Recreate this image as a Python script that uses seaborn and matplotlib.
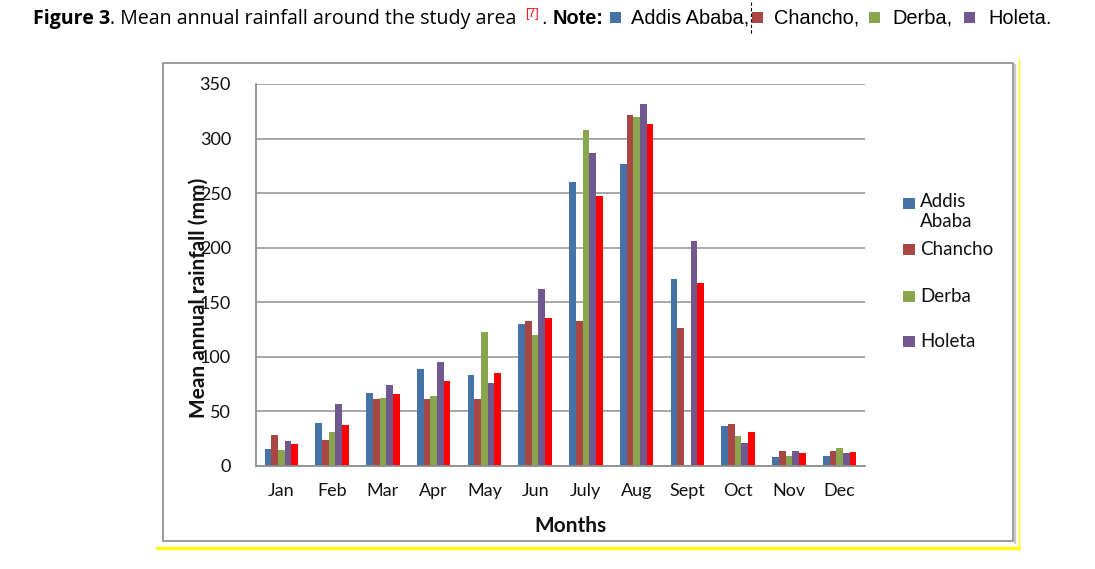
import numpy as np
import pandas as pd
import matplotlib
matplotlib.use("Agg")
import matplotlib.pyplot as plt
import seaborn as sns
from matplotlib.patches import Rectangle
from matplotlib.lines import Line2D
from matplotlib import font_manager as fm

# ---------------- data ----------------
months = ["Jan", "Feb", "Mar", "Apr", "May", "Jun", "July", "Aug", "Sept", "Oct", "Nov", "Dec"]
addis_ababa = [16, 39, 67, 89, 83, 130, 260, 277, 171, 37, 8, 9.5]
chancho = [28.5, 24, 61, 61, 61, 133, 133, 322, 126, 38.5, 13.5, 13.5]
derba = [14.5, 31, 62, 64, 123, 120, 308, 320, 0, 27.5, 9, 16.5]
holeta = [23, 57, 74, 95, 76, 162, 287, 332, 206, 21.5, 14, 12]
station5 = [20, 38, 66, 78, 85, 136, 247, 313, 168, 31, 11.5, 13]
series_names = ["Addis Ababa", "Chancho", "Derba", "Holeta", "Station 5"]
legend_labels = ["Addis\nAbaba", "Chancho", "Derba", "Holeta"]
note_labels = ["Addis Ababa,", "Chancho,", "Derba,", "Holeta."]
y_ticks = [0, 50, 100, 150, 200, 250, 300, 350]
colors = ["#4572A7", "#AA4643", "#89A54E", "#71588F", "#FF0000"]

df = pd.DataFrame({
    "Month": months * 5,
    "Rainfall": addis_ababa + chancho + derba + holeta + station5,
    "Station": sum([[n] * len(months) for n in series_names], []),
})

# ---------------- fonts ----------------
avail = {f.name for f in fm.fontManager.ttflist}
AX_FONT = "Lato" if "Lato" in avail else "DejaVu Sans"
T1_FONT = "Open Sans" if "Open Sans" in avail else "DejaVu Sans"
T2_FONT = "Liberation Sans Narrow" if "Liberation Sans Narrow" in avail else "Liberation Sans"

sns.set_style("white")
plt.rcParams["font.family"] = [AX_FONT, "DejaVu Sans"]

W, H = 1095, 569
fig = plt.figure(figsize=(W / 100, H / 100), dpi=100)
fig.patch.set_facecolor("white")


def fx(px):
    return px / W


def fy(py):
    return 1 - py / H


# chart frame (Excel chart area) and yellow lines
fig.patches.append(Rectangle((fx(163), fy(541)), 850 / W, 478 / H, transform=fig.transFigure,
                             fill=False, edgecolor="#8a8a8a", lw=1.2, zorder=0))
fig.lines.append(Line2D([fx(1015), fx(1015)], [fy(65), fy(543)], transform=fig.transFigure,
                        color="#c8c8c8", lw=1.6))
fig.lines.append(Line2D([fx(157), fx(1019)], [fy(548), fy(548)], transform=fig.transFigure,
                        color="#FFFF00", lw=2.4))
fig.lines.append(Line2D([fx(1019), fx(1019)], [fy(59), fy(548)], transform=fig.transFigure,
                        color="#FFFF00", lw=1.0))

# ---------------- axes ----------------
ax = fig.add_axes([fx(256), fy(466), 609 / W, 382 / H])
sns.barplot(data=df, x="Month", y="Rainfall", hue="Station", order=months,
            hue_order=series_names, palette=colors, width=0.66, saturation=1,
            errorbar=None, legend=False, linewidth=0, ax=ax)

ax.set_xlim(-0.5, len(months) - 0.5)
ax.set_ylim(0, 350)
ax.set_yticks(y_ticks)
ax.set_yticklabels([str(v) for v in y_ticks])
ax.yaxis.grid(True, color="#8f8f8f", lw=1.1)
ax.xaxis.grid(False)
ax.set_axisbelow(True)
for s in ["top", "right"]:
    ax.spines[s].set_visible(False)
for s in ["left", "bottom"]:
    ax.spines[s].set_color("#8f8f8f")
    ax.spines[s].set_linewidth(1.3)

ax.set_xticks(np.arange(-0.5, len(months) + 0.5, 1.0), minor=True)
ax.tick_params(axis="x", which="major", length=0, pad=12, labelsize=13, labelcolor="#111111")
ax.tick_params(axis="x", which="minor", length=5, width=1.1, color="#8f8f8f", direction="out")
ax.tick_params(axis="y", which="major", length=6, width=1.1, color="#8f8f8f", direction="out",
               pad=12, labelsize=13, labelcolor="#111111")

ax.set_xlabel("Months", fontsize=15, fontweight="bold", color="#111111")
ax.set_ylabel("Mean annual rainfall (mm)", fontsize=15, fontweight="bold", color="#111111")
ax.xaxis.set_label_coords(0.516, -0.132)
ax.yaxis.set_label_coords(-0.078, 0.44)

# ---------------- legend (first four series) ----------------
leg_centers = [203.5, 249.5, 296, 341.5]
for lab, col, yc in zip(legend_labels, colors, leg_centers):
    fig.patches.append(Rectangle((fx(903), fy(yc + 5.5)), 12 / W, 11 / H,
                                 transform=fig.transFigure, facecolor=col, edgecolor="none"))
    if "\n" in lab:
        fig.text(fx(920), fy(yc - 10.5), lab, ha="left", va="top", fontsize=13.5,
                 color="#111111", linespacing=1.22)
    else:
        fig.text(fx(920), fy(yc), lab, ha="left", va="center", fontsize=13.5, color="#111111")

# ---------------- caption ----------------
fig.canvas.draw()
r = fig.canvas.get_renderer()

BASE = 24
t_a = fig.text(fx(33), fy(BASE), "Figure 3", fontweight="bold", fontsize=12,
               family=[T1_FONT, "DejaVu Sans"], va="baseline", color="black")
t_b = fig.text(0, fy(BASE), ". Mean annual rainfall around the study area", fontsize=12,
               family=[T1_FONT, "DejaVu Sans"], va="baseline", color="black")
wa = t_a.get_window_extent(r).width
wb = t_b.get_window_extent(r).width
fs1 = 12 * 484 / (wa + wb)
t_a.set_fontsize(fs1)
t_b.set_fontsize(fs1)
fig.canvas.draw()
wa = t_a.get_window_extent(r).width
t_b.set_x(fx(33 + wa))

probe = fig.text(0, 0, note_labels[0], fontsize=12, family=[T2_FONT, "DejaVu Sans"])
wp = probe.get_window_extent(r).width
probe.remove()
fs2 = 12 * 118 / wp

fig.text(fx(525), fy(BASE - 7), "[7]", fontsize=fs2 * 0.62, color="#ff0000",
         family=[T2_FONT, "DejaVu Sans"], va="baseline")
fig.text(fx(541), fy(BASE), ".", fontsize=fs2, family=[T2_FONT, "DejaVu Sans"],
         va="baseline", color="black")
fig.text(fx(553), fy(BASE), "Note:", fontsize=fs2, fontweight="bold",
         family=[T2_FONT, "DejaVu Sans"], va="baseline", color="black")

sq_x = [610, 752, 869, 964]
txt_x = [631, 774, 892, 988]
for lab, col, sx, tx in zip(note_labels, colors, sq_x, txt_x):
    fig.patches.append(Rectangle((fx(sx), fy(BASE - 1)), 11 / W, 11 / H,
                                 transform=fig.transFigure, facecolor=col, edgecolor="none"))
    fig.text(fx(tx), fy(BASE), lab, fontsize=fs2, family=[T2_FONT, "DejaVu Sans"],
             va="baseline", color="black")

fig.lines.append(Line2D([fx(751), fx(751)], [fy(2), fy(35)], transform=fig.transFigure,
                        color="black", lw=0.8, ls=(0, (3, 2))))

fig.savefig("out.png", dpi=100, facecolor="white")
